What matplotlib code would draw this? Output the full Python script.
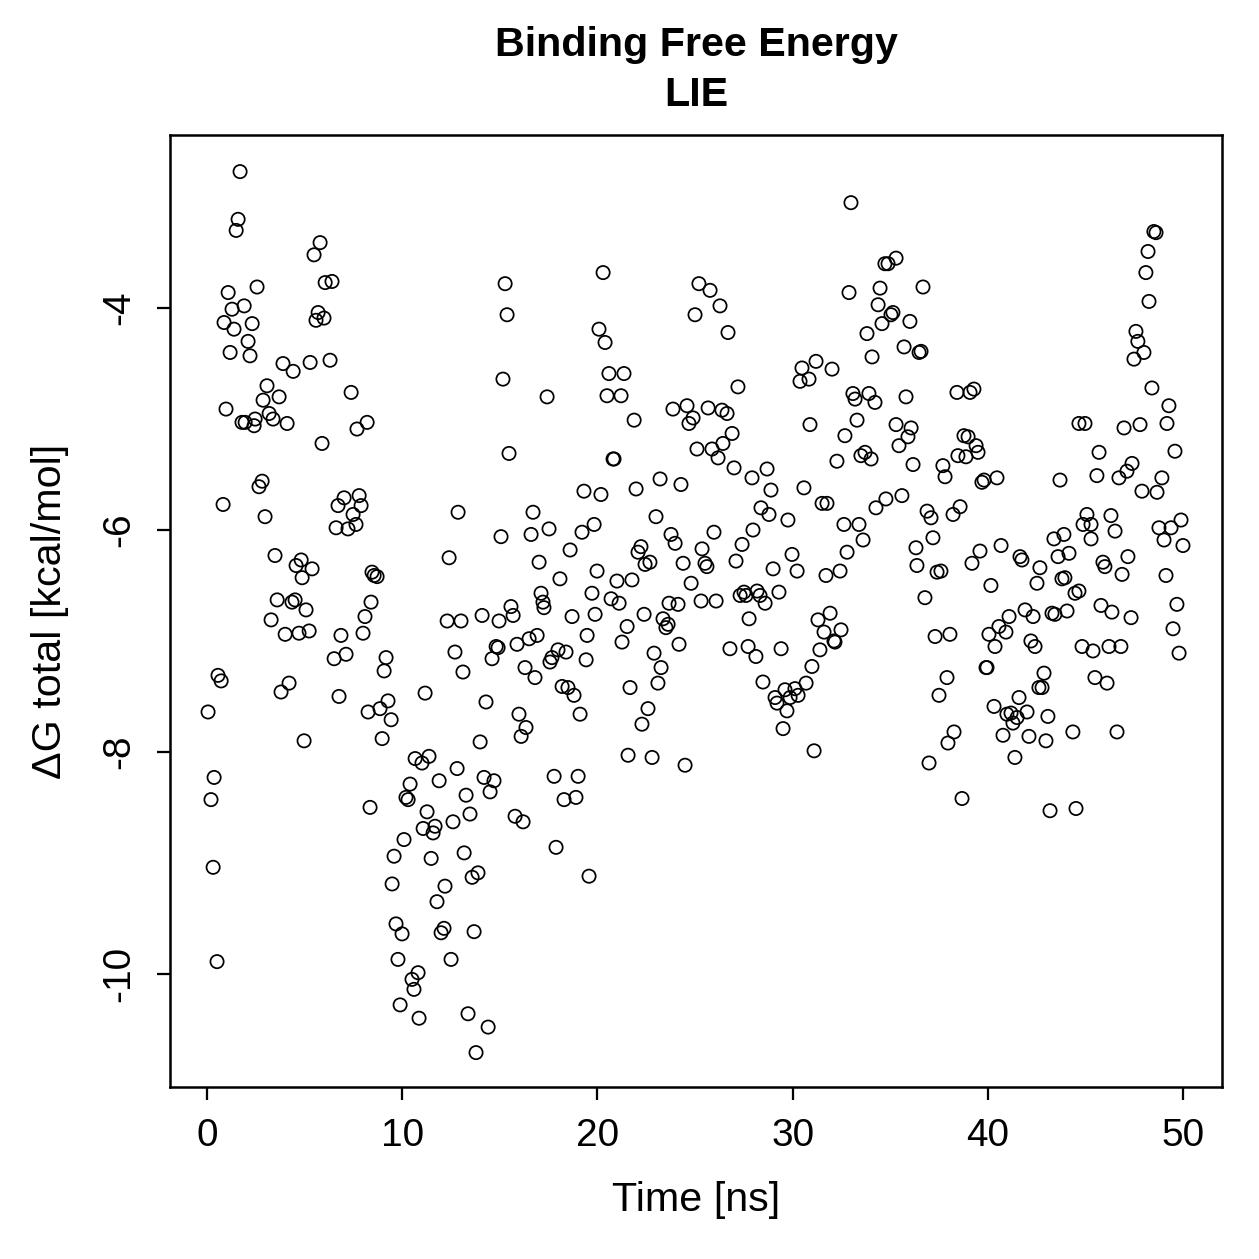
import matplotlib
matplotlib.use("Agg")
import matplotlib.pyplot as plt

# LIE binding free energy vs simulation time
t_00_10 = [0.05, 0.20, 0.31, 0.36, 0.51, 0.56, 0.72, 0.82, 0.87, 0.97, 1.08, 1.18, 1.28, 1.38, 1.49,
           1.59, 1.69, 1.79, 1.90, 1.95, 2.10, 2.20, 2.31, 2.41, 2.46, 2.56, 2.66, 2.82, 2.87, 2.97,
           3.07, 3.18, 3.28, 3.38, 3.48, 3.59, 3.69, 3.79, 3.89, 4.00, 4.10, 4.20, 4.35, 4.41, 4.51,
           4.56, 4.71, 4.82, 4.87, 4.97, 5.07, 5.23, 5.28, 5.38, 5.48, 5.58, 5.69, 5.79, 5.89, 5.99,
           6.05, 6.30, 6.40, 6.51, 6.61, 6.71, 6.76, 6.86, 7.02, 7.12, 7.22, 7.38, 7.48, 7.63, 7.68,
           7.79, 7.89, 7.99, 8.09, 8.20, 8.25, 8.35, 8.40, 8.45, 8.56, 8.71, 8.86, 8.97, 9.07, 9.17,
           9.27, 9.43, 9.48, 9.58, 9.68, 9.78, 9.89, 9.99]
dg_00_10 = [-7.64, -8.43, -9.04, -8.23, -9.89, -7.31, -7.36, -5.77, -4.13, -4.91, -3.86, -4.40, -4.01, -4.19, -3.30,
            -3.20, -2.77, -5.03, -3.98, -5.03, -4.30, -4.43, -4.14, -5.06, -5.00, -3.81, -5.61, -5.56, -4.83, -5.88,
            -4.70, -4.95, -6.81, -5.00, -6.23, -6.63, -4.80, -7.46, -4.50, -6.94, -5.04, -7.38, -6.65, -4.57, -6.63,
            -6.32, -6.93, -6.27, -6.43, -7.90, -6.72, -6.91, -4.49, -6.35, -3.52, -4.11, -4.04, -3.41, -5.22, -4.09,
            -3.77, -4.47, -3.76, -7.16, -5.98, -5.78, -7.50, -6.95, -5.71, -7.12, -5.99, -4.76, -5.86, -5.95, -5.09,
            -5.69, -5.78, -6.93, -6.78, -5.03, -7.64, -8.50, -6.65, -6.38, -6.41, -6.42, -7.61, -7.88, -7.27, -7.15,
            -7.54, -7.71, -9.19, -8.94, -9.55, -9.87, -10.28, -9.64]

t_10_20 = [10.09, 10.19, 10.30, 10.40, 10.50, 10.60, 10.66, 10.81, 10.86, 11.01, 11.07, 11.17, 11.27, 11.37, 11.48,
           11.58, 11.68, 11.78, 11.89, 11.99, 12.14, 12.19, 12.30, 12.40, 12.50, 12.60, 12.70, 12.81, 12.86, 13.01,
           13.11, 13.17, 13.27, 13.37, 13.47, 13.58, 13.68, 13.78, 13.88, 13.99, 14.09, 14.19, 14.29, 14.40, 14.50,
           14.60, 14.70, 14.81, 14.91, 14.96, 15.06, 15.16, 15.27, 15.37, 15.47, 15.57, 15.68, 15.78, 15.88, 15.98,
           16.09, 16.19, 16.29, 16.34, 16.50, 16.60, 16.70, 16.80, 16.91, 17.01, 17.11, 17.21, 17.26, 17.42, 17.52,
           17.57, 17.67, 17.78, 17.88, 17.98, 18.08, 18.19, 18.29, 18.39, 18.49, 18.60, 18.70, 18.80, 18.90, 19.01,
           19.11, 19.21, 19.31, 19.42, 19.47, 19.57, 19.72, 19.83, 19.88, 19.98]
dg_10_20 = [-8.79, -8.41, -8.43, -8.29, -10.05, -10.14, -8.06, -9.99, -10.40, -8.10, -8.69, -7.47, -8.54, -8.04, -8.96,
            -8.73, -8.67, -9.35, -8.26, -9.63, -9.59, -9.21, -6.82, -6.25, -9.87, -8.63, -7.10, -8.15, -5.84, -6.82,
            -7.28, -8.91, -8.39, -10.36, -8.56, -9.13, -9.62, -10.71, -9.09, -7.91, -6.77, -8.23, -7.55, -10.48, -8.36,
            -7.16, -8.26, -7.05, -7.06, -6.82, -6.06, -4.64, -3.78, -4.06, -5.31, -6.69, -6.77, -8.58, -7.03, -7.66,
            -7.86, -8.63, -7.24, -7.78, -6.98, -6.04, -5.84, -7.33, -6.95, -6.29, -6.57, -6.65, -6.70, -4.80, -5.99,
            -7.19, -7.15, -8.22, -8.86, -7.08, -6.44, -7.41, -8.43, -7.10, -7.42, -6.18, -6.78, -7.49, -8.41, -8.22,
            -7.66, -6.02, -5.65, -7.17, -6.95, -9.12, -6.57, -5.95, -6.76, -6.37]

t_20_30 = [20.08, 20.18, 20.29, 20.39, 20.49, 20.59, 20.70, 20.80, 20.85, 21.00, 21.11, 21.21, 21.26, 21.36, 21.52,
           21.57, 21.67, 21.77, 21.88, 21.98, 22.08, 22.23, 22.28, 22.39, 22.44, 22.59, 22.69, 22.80, 22.90, 23.00,
           23.10, 23.21, 23.26, 23.36, 23.51, 23.62, 23.67, 23.77, 23.87, 23.98, 24.13, 24.18, 24.28, 24.39, 24.49,
           24.59, 24.69, 24.80, 24.90, 25.00, 25.10, 25.20, 25.31, 25.36, 25.51, 25.61, 25.67, 25.77, 25.87, 25.97,
           26.08, 26.18, 26.28, 26.38, 26.43, 26.64, 26.69, 26.79, 26.90, 27.00, 27.10, 27.20, 27.31, 27.41, 27.51,
           27.61, 27.72, 27.77, 27.92, 27.97, 28.12, 28.18, 28.33, 28.38, 28.48, 28.59, 28.69, 28.79, 28.89, 29.00,
           29.10, 29.20, 29.30, 29.41, 29.51, 29.61, 29.71, 29.76, 29.87, 29.97]
dg_20_30 = [-4.19, -5.68, -3.68, -4.31, -4.79, -4.59, -6.62, -5.36, -5.36, -6.46, -6.66, -4.79, -7.01, -4.59, -6.87,
            -8.03, -7.42, -6.45, -5.01, -5.63, -6.20, -6.15, -7.75, -6.76, -6.31, -7.61, -6.29, -8.05, -7.11, -5.88,
            -7.38, -5.54, -7.24, -6.80, -6.88, -6.85, -6.66, -6.04, -4.91, -6.12, -6.67, -7.03, -5.59, -6.30, -8.12,
            -4.88, -5.04, -6.48, -4.99, -4.06, -5.27, -3.78, -6.64, -6.17, -6.30, -6.33, -4.90, -3.84, -5.27, -6.02,
            -6.64, -5.35, -3.98, -4.92, -5.22, -4.95, -4.22, -7.07, -5.13, -5.44, -6.28, -4.71, -6.59, -6.13, -6.56,
            -6.59, -7.05, -6.80, -5.53, -6.00, -7.14, -6.55, -6.59, -5.80, -7.37, -6.66, -5.45, -5.86, -5.64, -6.35,
            -7.51, -7.56, -6.56, -7.07, -7.79, -7.44, -7.63, -5.91, -7.51, -6.22]

t_30_40 = [30.12, 30.23, 30.28, 30.38, 30.48, 30.58, 30.69, 30.84, 30.89, 30.99, 31.10, 31.20, 31.30, 31.40, 31.51,
           31.61, 31.71, 31.76, 31.92, 32.02, 32.12, 32.17, 32.27, 32.43, 32.48, 32.63, 32.68, 32.79, 32.89, 32.99,
           33.09, 33.20, 33.30, 33.40, 33.50, 33.61, 33.71, 33.81, 33.91, 34.02, 34.07, 34.22, 34.27, 34.38, 34.48,
           34.58, 34.73, 34.78, 34.89, 35.04, 35.14, 35.30, 35.30, 35.45, 35.60, 35.71, 35.81, 35.91, 36.01, 36.07,
           36.17, 36.32, 36.37, 36.48, 36.58, 36.68, 36.78, 36.89, 36.99, 37.09, 37.19, 37.30, 37.40, 37.50, 37.60,
           37.70, 37.81, 37.91, 37.96, 38.06, 38.22, 38.27, 38.42, 38.47, 38.58, 38.68, 38.78, 38.88, 38.99, 39.09,
           39.19, 39.29, 39.40, 39.50, 39.60, 39.70, 39.81, 39.91, 39.96]
dg_30_40 = [-7.43, -6.37, -7.49, -4.66, -4.54, -5.62, -7.38, -4.64, -5.05, -7.23, -7.99, -4.48, -6.81, -7.08, -5.76,
            -6.92, -6.41, -5.76, -6.75, -4.55, -7.00, -7.01, -5.38, -6.37, -6.90, -5.95, -5.15, -6.20, -3.86, -3.05,
            -4.77, -4.82, -5.01, -5.95, -5.33, -6.09, -5.30, -4.23, -4.77, -5.36, -4.44, -4.85, -5.80, -3.97, -3.82,
            -4.14, -3.60, -5.72, -3.60, -4.06, -4.04, -3.55, -5.05, -5.24, -5.69, -4.35, -4.80, -5.16, -4.12, -5.08,
            -5.41, -6.16, -6.32, -4.40, -4.39, -3.81, -6.61, -5.83, -8.10, -5.89, -6.07, -6.96, -6.38, -7.49, -6.37,
            -5.42, -5.52, -7.33, -7.92, -6.94, -5.86, -7.82, -4.76, -5.33, -5.79, -8.42, -5.15, -5.34, -5.16, -4.76,
            -6.30, -4.73, -5.24, -5.30, -6.19, -5.57, -5.55, -7.24, -7.24]

t_40_50 = [40.06, 40.16, 40.32, 40.37, 40.47, 40.57, 40.68, 40.78, 40.93, 40.98, 41.09, 41.19, 41.29, 41.39, 41.50,
           41.60, 41.65, 41.75, 41.91, 42.01, 42.11, 42.21, 42.32, 42.42, 42.52, 42.62, 42.67, 42.78, 42.88, 42.98,
           43.08, 43.19, 43.29, 43.39, 43.44, 43.60, 43.70, 43.80, 43.90, 43.95, 44.06, 44.16, 44.36, 44.47, 44.52,
           44.67, 44.67, 44.83, 44.88, 44.98, 45.08, 45.29, 45.29, 45.39, 45.49, 45.59, 45.70, 45.80, 45.90, 46.00,
           46.11, 46.21, 46.31, 46.36, 46.52, 46.62, 46.72, 46.82, 46.88, 46.98, 47.13, 47.18, 47.34, 47.39, 47.49,
           47.59, 47.69, 47.80, 47.90, 48.00, 48.10, 48.21, 48.26, 48.41, 48.51, 48.62, 48.67, 48.77, 48.92, 49.03,
           49.13, 49.18, 49.28, 49.39, 49.49, 49.59, 49.69, 49.80, 49.90, 50.00]
dg_40_50 = [-6.94, -6.50, -7.59, -7.05, -5.53, -6.87, -6.14, -7.85, -6.92, -7.66, -6.78, -7.65, -7.74, -8.05, -7.69,
            -7.51, -6.24, -6.27, -6.72, -7.64, -7.86, -7.00, -6.78, -7.05, -6.48, -7.42, -6.34, -7.42, -7.29, -7.90,
            -7.68, -8.53, -6.75, -6.08, -6.76, -6.24, -5.55, -6.44, -6.04, -6.43, -6.73, -6.21, -7.82, -6.57, -8.51,
            -5.04, -6.55, -7.05, -5.95, -5.04, -5.86, -5.95, -6.08, -7.09, -7.33, -5.51, -5.30, -6.68, -6.29, -6.33,
            -7.38, -7.05, -5.87, -6.74, -6.01, -7.82, -5.53, -7.05, -6.40, -5.08, -5.47, -6.24, -6.79, -5.40, -4.46,
            -4.21, -4.30, -5.05, -5.65, -4.40, -3.68, -3.49, -3.94, -4.72, -3.31, -3.32, -5.66, -5.98, -5.53, -6.09,
            -6.41, -5.04, -4.88, -5.98, -6.89, -5.29, -6.67, -7.11, -5.91, -6.14]

time_ns = t_00_10 + t_10_20 + t_20_30 + t_30_40 + t_40_50
dg_total = dg_00_10 + dg_10_20 + dg_20_30 + dg_30_40 + dg_40_50

x_ticks = [0, 10, 20, 30, 40, 50]
y_ticks = [-4, -6, -8, -10]

plt.rcParams['font.family'] = ['Liberation Sans', 'DejaVu Sans']

W = 1259
fig = plt.figure(figsize=(W / 180, W / 180), dpi=180)
ax = fig.add_axes([170 / W, 1 - 1087 / W, (1222 - 170) / W, (1087 - 135) / W])

ax.scatter(time_ns, dg_total, s=28, facecolors='none', edgecolors='black', linewidths=0.7)

ax.set_xlim(-1.9, 52.0)
ax.set_ylim(-11.02, -2.44)
ax.set_xticks(x_ticks)
ax.set_yticks(y_ticks)
ax.set_yticklabels([str(v) for v in y_ticks], rotation=90, va='center')
ax.tick_params(direction='out', length=5.2, width=0.9, labelsize=15.5, color='black')
ax.tick_params(axis='x', pad=7)
ax.tick_params(axis='y', pad=8)
for sp in ax.spines.values():
    sp.set_linewidth(1.0)

fig.text(696 / W, 1 - 45 / W, 'Binding Free Energy', ha='center', va='center',
         fontsize=16.5, fontweight='bold')
fig.text(696 / W, 1 - 95 / W, 'LIE', ha='center', va='center', fontsize=16.5, fontweight='bold')
fig.text(696 / W, 1 - 1200 / W, 'Time [ns]', ha='center', va='center', fontsize=16.5)
fig.text(50 / W, 1 - 611 / W, 'ΔG total [kcal/mol]', ha='center', va='center',
         rotation=90, fontsize=16.5)

fig.savefig('out.png', dpi=180)
